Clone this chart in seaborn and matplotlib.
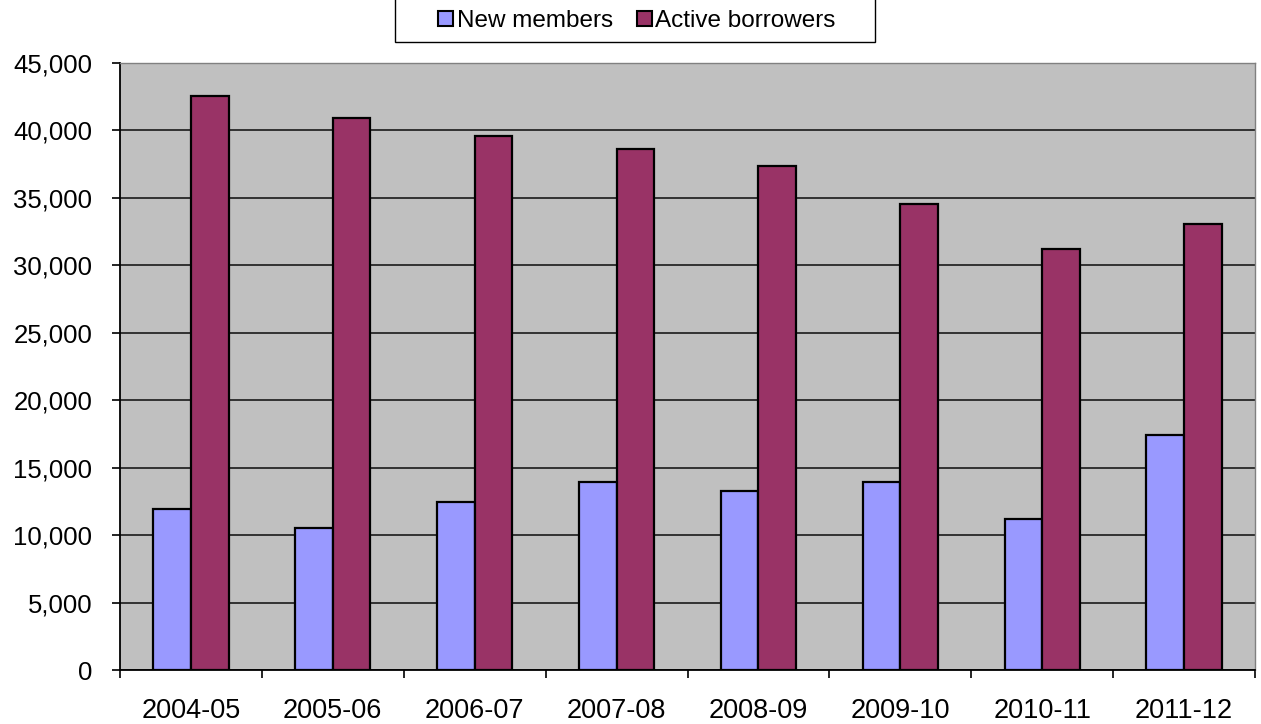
import numpy as np
import pandas as pd
import matplotlib
matplotlib.use('Agg')
import matplotlib.pyplot as plt
from matplotlib.patches import Patch, Rectangle
from matplotlib.ticker import FuncFormatter, FixedLocator
import seaborn as sns

years = ['2004-05', '2005-06', '2006-07', '2007-08',
         '2008-09', '2009-10', '2010-11', '2011-12']
new_members = [11950, 10540, 12450, 13930, 13265, 13930, 11190, 17425]
active_borrowers = [42520, 40900, 39560, 38660, 37350, 34530, 31190, 33090]
series = ['New members', 'Active borrowers']
colors = ['#9999FF', '#993366']

df = pd.DataFrame({
    'year': years * 2,
    'series': [series[0]] * len(years) + [series[1]] * len(years),
    'value': new_members + active_borrowers,
})

sns.set_theme(style='white')
plt.rcParams['font.family'] = ['Liberation Sans', 'DejaVu Sans']

W, H = 1261, 724
fig = plt.figure(figsize=(W / 100, H / 100), dpi=100)
ax = fig.add_axes([120 / W, 1 - 670 / H, 1135 / W, 607 / H])
ax.set_facecolor('#C0C0C0')

sns.barplot(data=df, x='year', y='value', hue='series', order=years,
            hue_order=series, palette=colors, width=0.53, gap=0,
            edgecolor='black', linewidth=1.6, saturation=1, ax=ax,
            legend=False, zorder=3)

ax.set_ylim(0, 45000)
ax.set_xlim(-0.5, len(years) - 0.5)
ax.yaxis.set_major_locator(FixedLocator(np.arange(0, 45001, 5000)))
ax.yaxis.set_major_formatter(FuncFormatter(lambda v, p: f'{v:,.0f}'))
ax.grid(axis='y', color='#1a1a1a', linewidth=1.2, zorder=1)
ax.set_axisbelow(True)

# tick marks at category boundaries, labels centred between them
ax.set_xticks(np.arange(-0.5, len(years), 1.0))
ax.set_xticklabels([])
ax.set_xticks(np.arange(len(years)), minor=True)
ax.set_xticklabels(years, minor=True)
ax.tick_params(axis='x', which='major', direction='out', length=6,
               width=1.2, color='black', bottom=True)
ax.tick_params(axis='x', which='minor', length=0, pad=20, labelsize=19.5,
               labelcolor='black')
ax.tick_params(axis='y', direction='out', length=6, width=1.2,
               color='black', left=True, labelsize=18.5, pad=14,
               labelcolor='black')

ax.set_xlabel('')
ax.set_ylabel('')
for side in ['left', 'bottom']:
    ax.spines[side].set_color('black')
    ax.spines[side].set_linewidth(1.3)
for side in ['top', 'right']:
    ax.spines[side].set_color('#808080')
    ax.spines[side].set_linewidth(1.0)

# legend box runs off the top edge like the original
fig.add_artist(Rectangle((395 / W, 1 - 42 / H), 480 / W, 60 / H,
                         transform=fig.transFigure, facecolor='white',
                         edgecolor='black', linewidth=1.0, clip_on=False))
handles = [Patch(facecolor=c, edgecolor='black', linewidth=1.5) for c in colors]
leg = fig.legend(handles, series, loc='center', ncol=2,
                 bbox_to_anchor=(637 / W, 1 - 21 / H),
                 frameon=False, fontsize=17.5, handlelength=0.6,
                 handleheight=0.6, handletextpad=0.15, columnspacing=1.0,
                 borderpad=0, borderaxespad=0)
for t in leg.get_texts():
    t.set_color('black')

fig.savefig('out.png', dpi=100, facecolor='white')
